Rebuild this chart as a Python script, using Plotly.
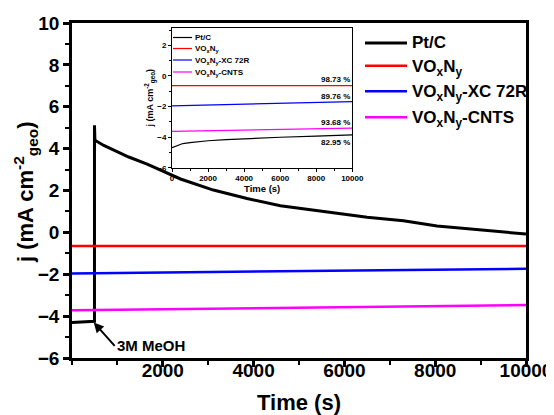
import plotly.graph_objects as go

# ---------------- data (main plot) ----------------
t_ptc = [0, 200, 495, 495, 505, 700, 920, 1250, 1655, 2000, 2390, 3115, 3855, 4590,
         5200, 5837, 6500, 7300, 8040, 8773, 9500, 10000]
j_ptc = [-4.30, -4.28, -4.25, 5.12, 4.40, 4.15, 3.93, 3.60, 3.26, 2.92, 2.55, 2.02, 1.62, 1.27,
         1.08, 0.91, 0.72, 0.55, 0.30, 0.16, 0.01, -0.08]
t_von = [0, 10000]
j_von = [-0.65, -0.65]
t_xc = [0, 5000, 10000]
j_xc = [-1.96, -1.85, -1.74]
t_cnt = [0, 3700, 10000]
j_cnt = [-3.72, -3.62, -3.47]

# ---------------- data (inset) ----------------
ti_ptc = [0, 200, 400, 600, 1000, 2000, 3000, 4000, 6000, 8000, 10000]
ji_ptc = [-4.69, -4.60, -4.52, -4.42, -4.36, -4.24, -4.17, -4.11, -4.01, -3.93, -3.86]
ti_von = [0, 10000]
ji_von = [-0.63, -0.63]
ti_xc = [0, 10000]
ji_xc = [-1.96, -1.68]
ti_cnt = [0, 10000]
ji_cnt = [-3.63, -3.41]
ret_labels = ["98.73 %", "89.76 %", "93.68 %", "82.95 %"]
ret_y = [-0.22, -1.35, -3.03, -4.36]

names = ["Pt/C", "VO<sub>x</sub>N<sub>y</sub>", "VO<sub>x</sub>N<sub>y</sub>-XC 72R",
         "VO<sub>x</sub>N<sub>y</sub>-CNTS"]
colors = ["#000000", "#ff0000", "#0000ff", "#ff00ff"]

x_ticks = [2000, 4000, 6000, 8000, 10000]
x_ticktext = ["2000", "4000", "6000", "8000", "10000"]
y_ticks = [-6, -4, -2, 0, 2, 4, 6, 8, 10]
xi_ticks = [0, 2000, 4000, 6000, 8000, 10000]
xi_ticktext = ["0", "2000", "4000", "6000", "8000", "10000"]
yi_ticks = [-6, -4, -2, 0, 2]

FONT = "Liberation Sans, Arial, sans-serif"

# figure is placed 8px from the page corner by the page's default body margin
W, H = 546, 407
ML, MR, MT, MB = 64, 28, 15, 57
PW, PH = W - ML - MR, H - MT - MB


def px_x(p):
    # window pixel -> paper x
    return (p - 8 - ML) / PW


def px_y(p):
    # window pixel -> paper y
    return (H - MB + 8 - p) / PH


# legend layout (window pixels)
main_leg_px = (365, 407, 410)
main_leg_py = [43, 65.7, 91.3, 117.3]
ins_leg_px = (173, 192, 193)
ins_leg_py = [37.5, 48.5, 60, 72]

fig = go.Figure()
main_data = [(t_ptc, j_ptc), (t_von, j_von), (t_xc, j_xc), (t_cnt, j_cnt)]
widths = [3, 2.5, 2.5, 2.5]
for (tx, jy), nm, c, w in zip(main_data, names, colors, widths):
    fig.add_trace(go.Scatter(x=tx, y=jy, mode="lines", name=nm, showlegend=False,
                             line=dict(color=c, width=w), xaxis="x", yaxis="y"))

inset_data = [(ti_ptc, ji_ptc), (ti_von, ji_von), (ti_xc, ji_xc), (ti_cnt, ji_cnt)]
for (tx, jy), nm, c in zip(inset_data, names, colors):
    fig.add_trace(go.Scatter(x=tx, y=jy, mode="lines", name=nm, showlegend=False,
                             line=dict(color=c, width=1.2), xaxis="x2", yaxis="y2"))

shapes = []
annots = []
# legend keys + labels
for i, (nm, c) in enumerate(zip(names, colors)):
    shapes.append(dict(type="line", xref="paper", yref="paper",
                       x0=px_x(main_leg_px[0]), x1=px_x(main_leg_px[1]),
                       y0=px_y(main_leg_py[i]), y1=px_y(main_leg_py[i]),
                       line=dict(color=c, width=3 if i == 0 else 2.5)))
    annots.append(dict(x=px_x(main_leg_px[2]), y=px_y(main_leg_py[i] + (0 if i == 0 else 2)),
                       xref="paper", yref="paper", text=nm, showarrow=False,
                       xanchor="left", yanchor="middle",
                       font=dict(size=17, family=FONT, weight="bold", color="black")))
    shapes.append(dict(type="line", xref="paper", yref="paper",
                       x0=px_x(ins_leg_px[0]), x1=px_x(ins_leg_px[1]),
                       y0=px_y(ins_leg_py[i]), y1=px_y(ins_leg_py[i]),
                       line=dict(color=c, width=1.2)))
    annots.append(dict(x=px_x(ins_leg_px[2]), y=px_y(ins_leg_py[i] + (0 if i == 0 else 1)),
                       xref="paper", yref="paper", text=nm, showarrow=False,
                       xanchor="left", yanchor="middle",
                       font=dict(size=8, family=FONT, weight="bold", color="black")))

for lab, yy in zip(ret_labels, ret_y):
    annots.append(dict(x=10000, y=yy, xref="x2", yref="y2", text=lab, showarrow=False,
                       xanchor="right", yanchor="middle",
                       font=dict(size=8, family=FONT, weight="bold", color="black")))
# 3M MeOH arrow annotation
annots.append(dict(x=480, y=-4.3, xref="x", yref="y", ax=940, ay=-5.42, axref="x", ayref="y",
                   text="3M MeOH", showarrow=True, arrowhead=2, arrowsize=1, arrowwidth=2,
                   arrowcolor="black", xanchor="left", yanchor="middle",
                   font=dict(size=15, family=FONT, weight="bold", color="black")))
# main y title
annots.append(dict(x=px_x(25), y=px_y(193), xref="paper", yref="paper", textangle=-90,
                   text="j (mA cm<sup>-2</sup><sub>geo</sub>)", showarrow=False,
                   xanchor="center", yanchor="middle",
                   font=dict(size=22, family=FONT, weight="bold", color="black")))

fig.update_layout(
    width=W, height=H,
    margin=dict(l=ML, r=MR, t=MT, b=MB, autoexpand=False),
    paper_bgcolor="white", plot_bgcolor="white",
    font=dict(family=FONT, color="black", weight="bold"),
    showlegend=False,
    xaxis=dict(range=[0, 10000], tickvals=x_ticks, ticktext=x_ticktext, showgrid=False,
               zeroline=False, automargin=False,
               showline=True, linewidth=2.5, linecolor="black", mirror=True,
               ticks="outside", ticklen=6, tickwidth=2.5, tickcolor="black",
               ticklabelstandoff=-13,
               minor=dict(dtick=1000, ticks="outside", ticklen=4, tickwidth=2, tickcolor="black"),
               tickfont=dict(size=19, family=FONT, weight="bold"),
               title=dict(text="Time (s)", font=dict(size=22, family=FONT, weight="bold"), standoff=17)),
    yaxis=dict(range=[-6, 10], tickvals=y_ticks, showgrid=False, zeroline=False, automargin=False,
               showline=True, linewidth=2.5, linecolor="black", mirror=True,
               ticks="outside", ticklen=6, tickwidth=2.5, tickcolor="black",
               minor=dict(dtick=1, ticks="outside", ticklen=4, tickwidth=2, tickcolor="black"),
               tickfont=dict(size=19, family=FONT, weight="bold")),
    xaxis2=dict(domain=[px_x(172), px_x(352.3)], anchor="y2", range=[0, 10000], tickvals=xi_ticks,
                ticktext=xi_ticktext, automargin=False,
                showgrid=False, zeroline=False, showline=True, linewidth=1, linecolor="black",
                mirror=True, ticks="outside", ticklen=3, tickwidth=1, tickcolor="black",
                minor=dict(dtick=1000, ticks="outside", ticklen=2, tickwidth=1, tickcolor="black"),
                tickfont=dict(size=8, family=FONT, weight="bold"),
                title=dict(text="Time (s)", font=dict(size=9.5, family=FONT, weight="bold"), standoff=3)),
    yaxis2=dict(domain=[px_y(167.7), px_y(27.7)], anchor="x2", range=[-6, 3.15], tickvals=yi_ticks,
                automargin=False,
                showgrid=False, zeroline=False, showline=True, linewidth=1, linecolor="black",
                mirror=True, ticks="outside", ticklen=3, tickwidth=1, tickcolor="black",
                minor=dict(dtick=1, ticks="outside", ticklen=2, tickwidth=1, tickcolor="black"),
                tickfont=dict(size=8, family=FONT, weight="bold"),
                title=dict(text="j (mA cm<sup>-2</sup><sub>geo</sub>)",
                           font=dict(size=9, family=FONT, weight="bold"), standoff=2)),
    shapes=shapes,
    annotations=annots,
)

fig.write_html("out.html")
